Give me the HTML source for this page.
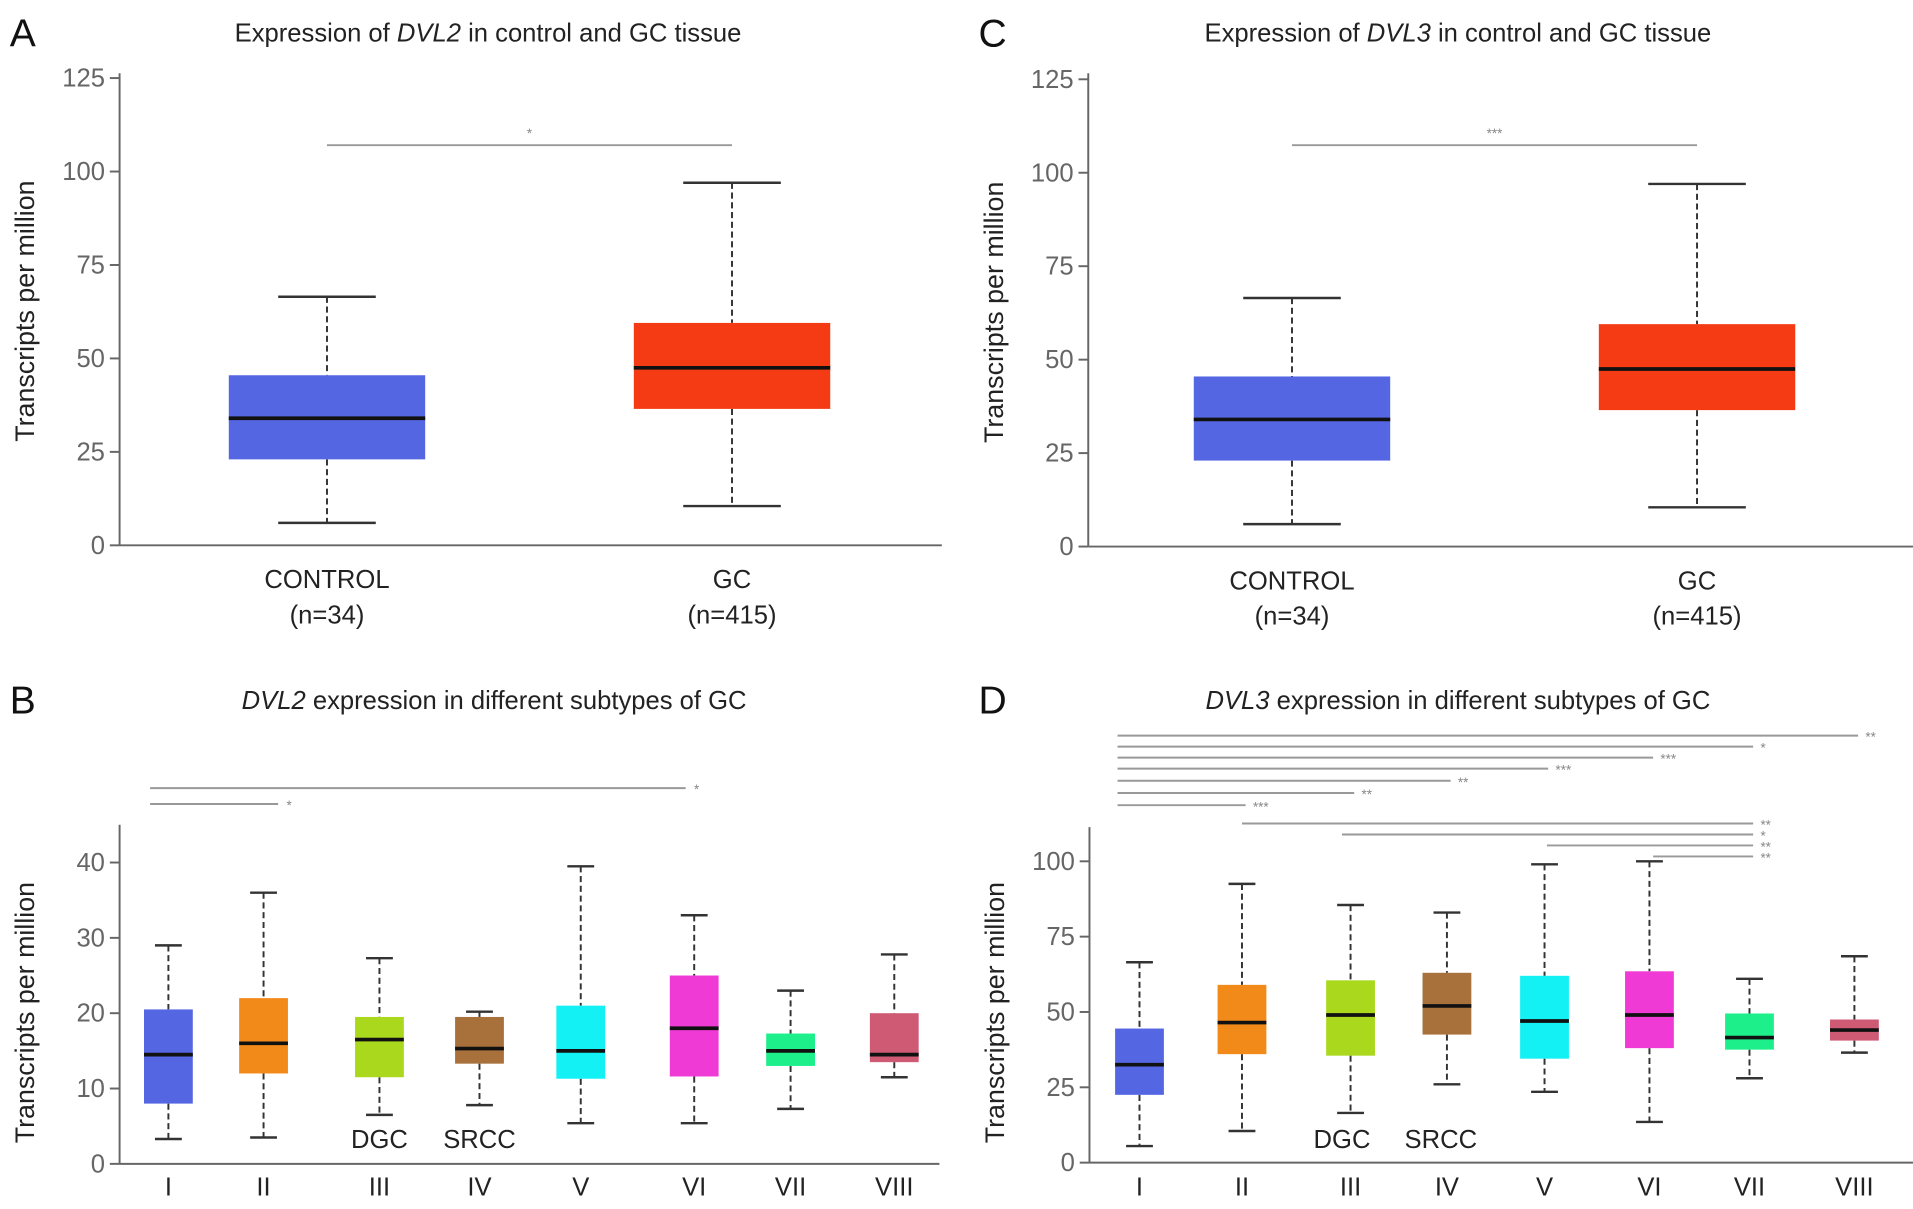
<!DOCTYPE html>
<html><head><meta charset="utf-8">
<style>
html,body{margin:0;padding:0;background:#fff;}
svg{display:block;}
text{font-family:"Liberation Sans",sans-serif;}
</style></head>
<body>
<svg id="fig" width="1913" height="1209" viewBox="0 0 1568 991" xmlns="http://www.w3.org/2000/svg"></svg>
<script>
// ---- Data ----
const groupsTop = ["CONTROL", "GC"];
const groupsTopN = ["(n=34)", "(n=415)"];
const dvl2Low = [6, 10.5];
const dvl2Q1 = [23, 36.5];
const dvl2Med = [34, 47.5];
const dvl2Q3 = [45.5, 59.5];
const dvl2High = [66.5, 97];
const dvl3Low = [6, 10.5];
const dvl3Q1 = [23, 36.5];
const dvl3Med = [34, 47.5];
const dvl3Q3 = [45.5, 59.5];
const dvl3High = [66.5, 97];
const topTicks = [0, 25, 50, 75, 100, 125];

const subtypes = ["I","II","III","IV","V","VI","VII","VIII"];
const subColors = ["#5566e3","#f28a1a","#a9d81c","#a8703a","#13f1f5","#f03ad5","#1df08a","#cf5a74"];
const bLow  = [3.3, 3.5, 6.5, 7.8, 5.4, 5.4, 7.3, 11.5];
const bQ1   = [8, 12, 11.5, 13.3, 11.3, 11.6, 13, 13.5];
const bMed  = [14.5, 16, 16.5, 15.3, 15, 18, 15, 14.5];
const bQ3   = [20.5, 22, 19.5, 19.5, 21, 25, 17.3, 20];
const bHigh = [29, 36, 27.3, 20.2, 39.5, 33, 23, 27.8];
const bTicks = [0, 10, 20, 30, 40];
const dLow  = [5.5, 10.5, 16.5, 26, 23.5, 13.5, 28, 36.5];
const dQ1   = [22.5, 36, 35.5, 42.5, 34.5, 38, 37.5, 40.5];
const dMed  = [32.5, 46.5, 49, 52, 47, 49, 41.5, 44];
const dQ3   = [44.5, 59, 60.5, 63, 62, 63.5, 49.5, 47.5];
const dHigh = [66.5, 92.5, 85.5, 83, 99, 100, 61, 68.5];
const dTicks = [0, 25, 50, 75, 100];
// significance: [fromIndex, toIndex, label]
const bSig = [[0,1,"*"],[0,5,"*"]];
const dSig = [[0,7,"**"],[0,6,"*"],[0,5,"***"],[0,4,"***"],[0,3,"**"],[0,2,"**"],[0,1,"***"],[1,6,"**"],[2,6,"*"],[4,6,"**"],[5,6,"**"]];

const NS="http://www.w3.org/2000/svg";
const svg=document.getElementById('fig');
function el(tag,attrs,parent){const e=document.createElementNS(NS,tag);for(const k in attrs)e.setAttribute(k,attrs[k]);(parent||svg).appendChild(e);return e;}
function txt(x,y,s,size,attrs,parent){const t=el('text',Object.assign({x:x,y:y,'font-size':size,'text-anchor':'middle',fill:'#222'},attrs||{}),parent);t.textContent=s;return t;}

function panel(cfg){
  const g=el('g',{});
  
  
  const ys=v=>cfg.y0-(v-0)*(cfg.y0-cfg.yTop)/(cfg.vTop);
  const L=txt(cfg.letterX,cfg.letterY,cfg.letter,32,{'text-anchor':'start',fill:'#111'},g);
  
  
  const T=el('text',{x:cfg.titleX,y:cfg.titleY,'font-size':21,'text-anchor':'middle',fill:'#222'},g);
  
  
  cfg.title.forEach(p=>{const s=el('tspan',{'font-style':p[1]?'italic':'normal'},T);s.textContent=p[0];});
  const ya=el('line',{x1:cfg.ax,y1:cfg.axTop,x2:cfg.ax,y2:cfg.y0,stroke:'#666','stroke-width':1.6},g);
  
  
  const xa=el('line',{x1:cfg.ax,y1:cfg.y0,x2:cfg.axRight,y2:cfg.y0,stroke:'#666','stroke-width':1.6},g);
  
  
  cfg.ticks.forEach(v=>{
    const y=ys(v);
    el('line',{x1:cfg.ax-8,y1:y,x2:cfg.ax,y2:y,stroke:'#666','stroke-width':1.6},g);
    const t=txt(cfg.ax-12,y+7,String(v),21,{'text-anchor':'end',fill:'#666'},g);
    
    
  });
  const yt=txt(0,0,'Transcripts per million',22,{transform:`translate(${cfg.ax-70},${cfg.yTitleY}) rotate(-90)`,fill:'#222'},g);
  
  
  cfg.cats.forEach((c,i)=>{
    const x=cfg.xs[i], w=cfg.bw, cw=cfg.cw;
    const bg=el('g',{},g);
    
    
    el('line',{x1:x,y1:ys(cfg.high[i]),x2:x,y2:ys(cfg.q3[i]),stroke:'#333','stroke-width':1.6,'stroke-dasharray':'5,3'},bg);
    el('line',{x1:x,y1:ys(cfg.q1[i]),x2:x,y2:ys(cfg.low[i]),stroke:'#333','stroke-width':1.6,'stroke-dasharray':'5,3'},bg);
    el('line',{x1:x-cw/2,y1:ys(cfg.high[i]),x2:x+cw/2,y2:ys(cfg.high[i]),stroke:'#333','stroke-width':2},bg);
    el('line',{x1:x-cw/2,y1:ys(cfg.low[i]),x2:x+cw/2,y2:ys(cfg.low[i]),stroke:'#333','stroke-width':2},bg);
    el('rect',{x:x-w/2,y:ys(cfg.q3[i]),width:w,height:ys(cfg.q1[i])-ys(cfg.q3[i]),fill:cfg.colors[i]},bg);
    el('line',{x1:x-w/2,y1:ys(cfg.med[i]),x2:x+w/2,y2:ys(cfg.med[i]),stroke:'#111','stroke-width':3},bg);
    const lab=txt(x,cfg.labY,c,cfg.labSize,{fill:'#222'},g);
    
    
    if(cfg.sub){const s=txt(x,cfg.labY+29,cfg.sub[i],cfg.labSize,{fill:'#222'},g);
      
      }
  });
  cfg.sig.forEach((s,k)=>{
    const sg=el('g',{},g);
    
    
    const y=cfg.sigY[k];
    const x0=cfg.sigX0[k]!==undefined?cfg.sigX0[k]:cfg.xs[s[0]];
    const x1=cfg.xs[s[1]]+(Array.isArray(cfg.sigExt)?cfg.sigExt[k]:cfg.sigExt);
    el('line',{x1:x0,y1:y,x2:x1,y2:y,stroke:'#999','stroke-width':1.6},sg);
    const sx=cfg.starMid?(x0+x1)/2:x1+cfg.starDx;
    txt(sx,y+cfg.starDy,s[2],11,{'text-anchor':cfg.starAnchor,fill:'#888'},sg);
  });
  return g;
}

// A
panel({name:'panel-a-dvl2-control-vs-gc',letter:'A',letterX:8,letterY:38,titleX:400,titleY:34,
 title:[['Expression of ',0],['DVL2',1],[' in control and GC tissue',0]],
 ax:98,axTop:60,axRight:772,y0:447,yTop:64,vTop:125,ticks:topTicks,yTitleY:255,
 cats:groupsTop,sub:groupsTopN,xs:[268,600],bw:161,cw:80,colors:['#5566e3','#f43b14'],
 low:dvl2Low,q1:dvl2Q1,med:dvl2Med,q3:dvl2Q3,high:dvl2High,labY:482,labSize:21,
 sig:[[0,1,'*']],sigY:[119],sigX0:[],sigExt:0,starMid:true,starDx:0,starDy:-6,starAnchor:'middle'});
// C
panel({name:'panel-c-dvl3-control-vs-gc',letter:'C',letterX:802,letterY:38,titleX:1195,titleY:34,
 title:[['Expression of ',0],['DVL3',1],[' in control and GC tissue',0]],
 ax:892,axTop:60,axRight:1568,y0:448,yTop:65,vTop:125,ticks:topTicks,yTitleY:256,
 cats:groupsTop,sub:groupsTopN,xs:[1059,1391],bw:161,cw:80,colors:['#5566e3','#f43b14'],
 low:dvl3Low,q1:dvl3Q1,med:dvl3Med,q3:dvl3Q3,high:dvl3High,labY:483,labSize:21,
 sig:[[0,1,'***']],sigY:[119],sigX0:[],sigExt:0,starMid:true,starDx:0,starDy:-6,starAnchor:'middle'});
// B
panel({name:'panel-b-dvl2-subtypes',letter:'B',letterX:8,letterY:585,titleX:405,titleY:581,
 title:[['DVL2',1],[' expression in different subtypes of GC',0]],
 ax:98,axTop:676,axRight:770,y0:954,yTop:707,vTop:40,ticks:bTicks,yTitleY:830,
 cats:subtypes,xs:[138,216,311,393,476,569,648,733],bw:40,cw:22,colors:subColors,
 low:bLow,q1:bQ1,med:bMed,q3:bQ3,high:bHigh,labY:980,labSize:21,
 sig:bSig,sigY:[659,646],sigX0:[123,123],sigExt:[12,-7],starDx:9,starDy:5,starAnchor:'middle'});
// D
panel({name:'panel-d-dvl3-subtypes',letter:'D',letterX:802,letterY:585,titleX:1195,titleY:581,
 title:[['DVL3',1],[' expression in different subtypes of GC',0]],
 ax:893,axTop:678,axRight:1568,y0:953,yTop:706,vTop:100,ticks:dTicks,yTitleY:830,
 cats:subtypes,xs:[934,1018,1107,1186,1266,1352,1434,1520],bw:40,cw:22,colors:subColors,
 low:dLow,q1:dQ1,med:dMed,q3:dQ3,high:dHigh,labY:980,labSize:21,
 sig:dSig,sigY:[603,612,621,630,640,650,660,675,684,693,702],
 sigX0:[916,916,916,916,916,916,916,1018,1100,1268,1355],sigExt:3,starDx:6,starDy:5,starAnchor:'start'});
[[311,'DGC'],[393,'SRCC'],[1100,'DGC'],[1181,'SRCC']].forEach(p=>{
  const t=txt(p[0],941,p[1],21,{fill:'#222'});
  
  
});
</script>
</body></html>
